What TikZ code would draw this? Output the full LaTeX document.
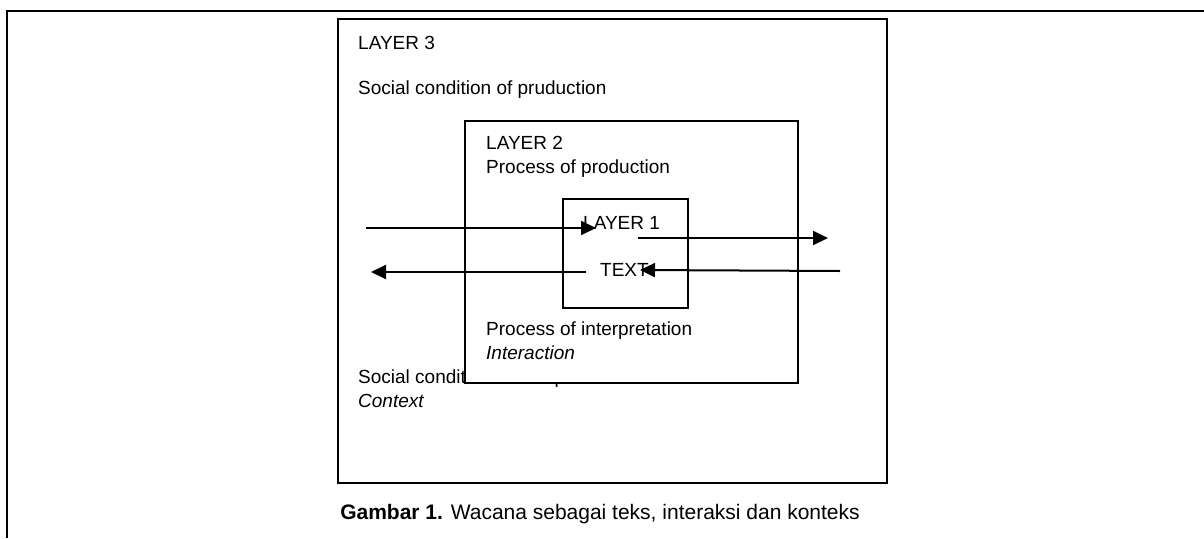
\documentclass[tikz,border=0pt]{standalone}
\usepackage{fontspec}
\setmainfont{Liberation Sans}
\usetikzlibrary{arrows.meta}

\begin{document}
\begin{tikzpicture}[x=1pt, y=-1pt,
		lbl/.style={anchor=base west, inner sep=0pt, font=\fontsize{19}{23}\selectfont},
		boxline/.style={line width=1.8pt},
		flow/.style={line width=2pt, -{Triangle[length=15pt, width=14pt]}}]
			%%%%% START %%%%%
			
			\useasboundingbox (0, 0) rectangle (1204, 538);
			\draw[line width=2.6pt] (7, 538) -- (7, 11) -- (1204, 11);
			
			% layer 3
			\draw[line width=1.5pt] (338, 19) rectangle (887, 483);
			\node[lbl] (l3) at (358, 49) {LAYER 3};
			\node[lbl] (sprod) at (358, 94) {Social condition of pruduction};
			\node[lbl] (sinterp) at (358, 383) {Social condition of interpretation};
			\node[lbl] (context) at (358, 407) {\itshape Context};
			
			% layer 2
			\draw[boxline, fill=white] (465, 121) rectangle (798, 383);
			\node[lbl] (l2) at (486, 149) {LAYER 2};
			\node[lbl] (pprod) at (486, 173) {Process of production};
			\node[lbl] (pinterp) at (486, 335) {Process of interpretation};
			\node[lbl] (interact) at (486, 359) {\itshape Interaction};
			
			% layer 1
			\draw[boxline] (563, 199) rectangle (688, 308);
			\node[lbl] (l1) at (583, 229) {LAYER 1};
			\node[lbl] (txt) at (600, 276) {TEXT};
			
			% arrows
			\coordinate (inA) at (366, 228);
			\coordinate (inB) at (596, 228);
			\coordinate (outA) at (586, 272);
			\coordinate (outB) at (371, 272);
			\coordinate (rgtA) at (638, 238);
			\coordinate (rgtB) at (828, 238);
			\coordinate (backA) at (840, 271);
			\coordinate (backB) at (640, 270);
			\draw[flow] (inA) -- (inB);
			\draw[flow] (outA) -- (outB);
			\draw[flow] (rgtA) -- (rgtB);
			\draw[flow] (backA) -- (backB);
			
			\node[anchor=base, inner sep=0pt, font=\fontsize{21}{25}\selectfont] (caption) at (600, 519)
				{\textbf{Gambar 1.} Wacana sebagai teks, interaksi dan konteks};
			
			%%%%% END %%%%%
		\end{tikzpicture}
\end{document}
